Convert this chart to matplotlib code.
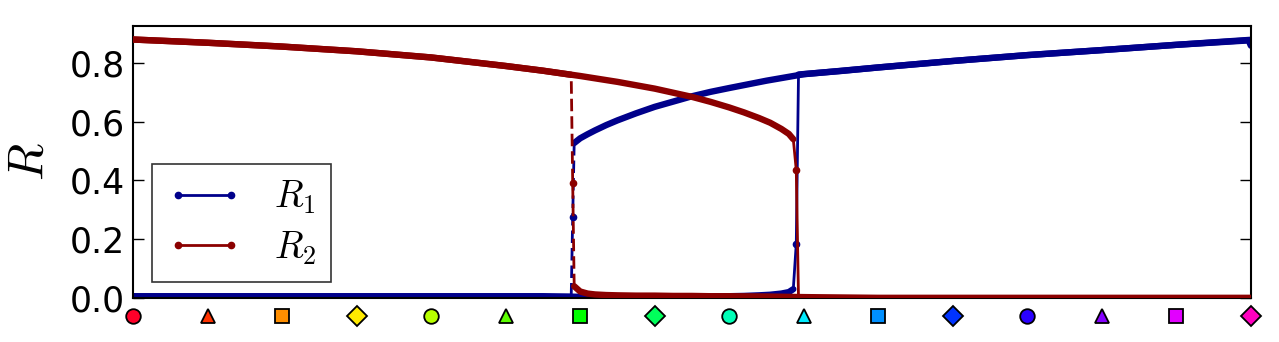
import matplotlib
matplotlib.use("Agg")
import matplotlib.pyplot as plt
from matplotlib.lines import Line2D

plt.rcParams['mathtext.fontset'] = 'cm'
plt.rcParams['font.family'] = ['DejaVu Sans']

blue = '#00008b'
red = '#8b0000'

# forward sweep (solid)
fw_x = [0, 1, 2, 3, 4, 5, 5.5, 6, 6.5, 7, 7.5, 7.75, 8, 8.2, 8.4, 8.55, 8.7,
        8.8, 8.86, 8.9, 8.93,
        9.5, 10, 11, 12, 13, 14, 15]
fw_r1 = [0.006, 0.006, 0.006, 0.006, 0.006, 0.006, 0.006, 0.004, 0.004, 0.004,
         0.005, 0.005, 0.006, 0.007, 0.009, 0.011, 0.015,
         0.020, 0.030, 0.185, 0.760,
         0.772, 0.784, 0.806, 0.826, 0.843, 0.861, 0.878]
fw_r2 = [0.879, 0.868, 0.855, 0.839, 0.818, 0.789, 0.773, 0.755, 0.735, 0.712,
         0.684, 0.667, 0.648, 0.631, 0.612, 0.596, 0.575,
         0.558, 0.540, 0.435, 0.0,
         0.0, 0.0, 0.0, 0.0, 0.0, 0.0, 0.0]
fw_jump = 19

# backward sweep (dashed)
bw_x = [15, 14.97, 14, 13, 12, 11, 10, 9, 8.5, 8, 7.75, 7.5, 7.25, 7, 6.75,
        6.5, 6.35, 6.2, 6.1, 6.0,
        5.92, 5.9, 5.88, 5.5, 5, 4, 3, 2, 1, 0]
bw_r1 = [0.858, 0.876, 0.861, 0.843, 0.826, 0.806, 0.784, 0.761, 0.739, 0.714,
         0.701, 0.686, 0.668, 0.650, 0.628, 0.604, 0.588, 0.570, 0.557, 0.543,
         0.527, 0.275, 0.005, 0.005, 0.005, 0.005, 0.005, 0.005, 0.005, 0.005]
bw_r2 = [0.0, 0.0, 0.0, 0.0, 0.0, 0.0, 0.0, 0.003, 0.005, 0.006,
         0.006, 0.007, 0.007, 0.008, 0.008, 0.009, 0.010, 0.012, 0.015, 0.022,
         0.040, 0.390, 0.759, 0.773, 0.789, 0.818, 0.839, 0.855, 0.868, 0.879]
bw_jump = 21

n_markers = 16
shapes = ['o', '^', 's', 'D']

fig = plt.figure(figsize=(12.79, 3.42), dpi=100)
ax = fig.add_axes([0.104, 0.1287, 0.874, 0.7953])

thick = 4.6
thin = 2.0
for xs, r1, r2, j, ls in [(fw_x, fw_r1, fw_r2, fw_jump, '-'),
                          (bw_x, bw_r1, bw_r2, bw_jump, '--')]:
    for r, c, z in [(r1, blue, 2), (r2, red, 3)]:
        ax.plot(xs[j - 1:j + 2], r[j - 1:j + 2], ls, color=c, lw=thin,
                marker='.', markersize=9, markevery=[1], zorder=z,
                dashes=(4.5, 1.8) if ls == '--' else (None, None))
        ax.plot(xs[:j], r[:j], '-', color=c, lw=thick, zorder=z,
                solid_capstyle='round', solid_joinstyle='round')
        ax.plot(xs[j + 1:], r[j + 1:], '-', color=c, lw=thick, zorder=z,
                solid_capstyle='round', solid_joinstyle='round')

ax.set_xlim(0, 15)
ax.set_ylim(0, 0.925)
ax.set_xticks([])
ax.set_yticks([0.0, 0.2, 0.4, 0.6, 0.8])
ax.set_yticklabels(['0.0', '0.2', '0.4', '0.6', '0.8'])
ax.tick_params(axis='y', direction='in', length=8, width=1, labelsize=25,
               right=True, pad=6)
for s in ax.spines.values():
    s.set_linewidth(1.5)
ax.set_ylabel('$R$', fontsize=35, labelpad=12)

cmap = plt.get_cmap('gist_rainbow')
trans = ax.get_xaxis_transform()
for i in range(n_markers):
    ax.plot(i, -0.066, marker=shapes[i % 4], color=cmap(i / (n_markers - 1)),
            markersize=10.5, markeredgecolor='black', markeredgewidth=1.3,
            transform=trans, clip_on=False, zorder=5)

handles = [Line2D([], [], color=blue, lw=thin, marker='.', markersize=9),
           Line2D([], [], color=red, lw=thin, marker='.', markersize=9)]
leg = ax.legend(handles, ['$R_1$', '$R_2$'], loc='lower left',
                bbox_to_anchor=(0.017, 0.059), borderaxespad=0, fontsize=27,
                numpoints=2, fancybox=False, handlelength=2.0,
                handletextpad=0.85, borderpad=0.4, labelspacing=0.35)
leg.get_frame().set_edgecolor('black')
leg.get_frame().set_linewidth(1.2)

fig.savefig('out.png', dpi=100)
